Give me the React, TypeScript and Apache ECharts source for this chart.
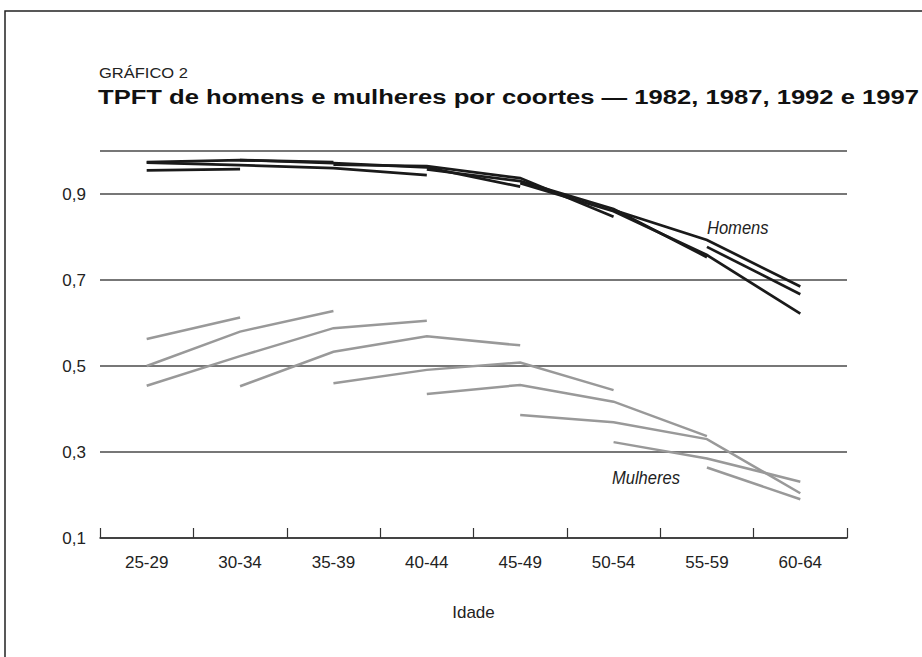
import React, { useEffect, useRef } from "react";
import * as echarts from "echarts";

const ages = ["25-29", "30-34", "35-39", "40-44", "45-49", "50-54", "55-59", "60-64"];
const yTicks = [0.1, 0.3, 0.5, 0.7, 0.9];

// Men cohorts (TPFT), values by age group; null = not observed
const menC1 = [0.955, 0.958, null, null, null, null, null, null];
const menC2 = [0.974, 0.979, 0.974, null, null, null, null, null];
const menC3 = [0.973, 0.967, 0.960, 0.944, null, null, null, null];
const menC4 = [null, 0.979, 0.972, 0.962, 0.917, null, null, null];
const menC5 = [null, null, 0.968, 0.965, 0.937, 0.847, null, null];
const menC6 = [null, null, null, 0.957, 0.930, 0.865, 0.753, null];
const menC7 = [null, null, null, null, 0.925, 0.860, 0.758, 0.622];
const menC8 = [null, null, null, null, null, 0.863, 0.793, 0.685];
const menC9 = [null, null, null, null, null, null, 0.777, 0.667];

// Women cohorts
const womC1 = [0.563, 0.613, null, null, null, null, null, null];
const womC2 = [0.500, 0.580, 0.628, null, null, null, null, null];
const womC3 = [0.454, 0.523, 0.588, 0.605, null, null, null, null];
const womC4 = [null, 0.453, 0.533, 0.569, 0.548, null, null, null];
const womC5 = [null, null, 0.460, 0.491, 0.508, 0.444, null, null];
const womC6 = [null, null, null, 0.435, 0.456, 0.417, 0.337, null];
const womC7 = [null, null, null, null, 0.386, 0.369, 0.330, 0.204];
const womC8 = [null, null, null, null, null, 0.323, 0.285, 0.231];
const womC9 = [null, null, null, null, null, null, 0.264, 0.190];

const menCohorts = [menC1, menC2, menC3, menC4, menC5, menC6, menC7, menC8, menC9];
const womenCohorts = [womC1, womC2, womC3, womC4, womC5, womC6, womC7, womC8, womC9];

const SANS = "'Liberation Sans', Arial, sans-serif";

export default function App() {
  const ref = useRef<HTMLDivElement>(null);
  useEffect(() => {
    if (!ref.current) return;
    const chart = echarts.init(ref.current, null, { renderer: "svg" });
    const mkSeries = (arr: (number | null)[], color: string, name: string, z: number, width: number) => ({
      type: "line",
      name,
      data: arr,
      showSymbol: false,
      symbol: "none",
      connectNulls: false,
      z,
      lineStyle: { color, width, cap: "butt", join: "miter" },
      emphasis: { disabled: true },
    });
    const series: any[] = [];
    womenCohorts.forEach((c, i) => series.push(mkSeries(c, "#999999", "Mulheres " + (i + 1), 3, 2.5)));
    menCohorts.forEach((c, i) => series.push(mkSeries(c, "#1a1a1a", "Homens " + (i + 1), 4, 2.7)));

    chart.setOption({
      animation: false,
      backgroundColor: "#ffffff",
      grid: { left: 100, right: 75, top: 151, bottom: 119, containLabel: false },
      xAxis: {
        type: "category",
        data: ages,
        boundaryGap: true,
        name: "Idade",
        nameLocation: "middle",
        nameGap: 66,
        nameTextStyle: { fontFamily: SANS, fontSize: 17, color: "#222" },
        axisLine: { show: true, lineStyle: { color: "#333", width: 1.5 } },
        axisTick: { show: true, inside: true, length: 10, lineStyle: { color: "#333", width: 1.2 } },
        axisLabel: { fontFamily: SANS, fontSize: 17, color: "#222", margin: 16 },
        splitLine: { show: false },
      },
      yAxis: {
        type: "value",
        min: 0.1,
        max: 1.0,
        interval: 0.2,
        axisLine: { show: false },
        axisTick: { show: false },
        axisLabel: {
          fontFamily: SANS,
          fontSize: 17,
          color: "#222",
          margin: 14,
          formatter: (v: number) => {
            const hit = yTicks.find((t) => Math.abs(t - v) < 1e-6);
            return hit === undefined ? "" : hit.toFixed(1).replace(".", ",");
          },
        },
        splitLine: { show: true, lineStyle: { color: "#4a4a4a", width: 1.5 } },
      },
      graphic: [
        {
          type: "rect",
          shape: { x: 5, y: 11, width: 960, height: 720 },
          style: { fill: "none", stroke: "#222", lineWidth: 1.5 },
          silent: true,
        },
        {
          type: "text",
          x: 99,
          y: 73,
          scaleX: 1.18,
          style: { text: "GRÁFICO 2", fontFamily: SANS, fontSize: 14, fill: "#222", textVerticalAlign: "middle" },
        },
        {
          type: "text",
          x: 98,
          y: 97,
          scaleX: 1.22,
          style: {
            text: "TPFT de homens e mulheres por coortes — 1982, 1987, 1992 e 1997",
            fontFamily: SANS,
            fontSize: 21,
            fontWeight: "bold",
            fill: "#111",
            textVerticalAlign: "middle",
          },
        },
        {
          type: "text",
          x: 707,
          y: 228,
          scaleX: 0.87,
          style: { text: "Homens", fontFamily: SANS, fontSize: 19, fontStyle: "italic", fill: "#222", textVerticalAlign: "middle" },
        },
        {
          type: "text",
          x: 612,
          y: 478,
          scaleX: 0.87,
          style: { text: "Mulheres", fontFamily: SANS, fontSize: 19, fontStyle: "italic", fill: "#222", textVerticalAlign: "middle" },
        },
      ],
      series,
    });
    return () => chart.dispose();
  }, []);

  return (
    <div
      ref={ref}
      style={{ position: "absolute", left: 0, top: 0, width: 922, height: 657, background: "#fff" }}
    />
  );
}
